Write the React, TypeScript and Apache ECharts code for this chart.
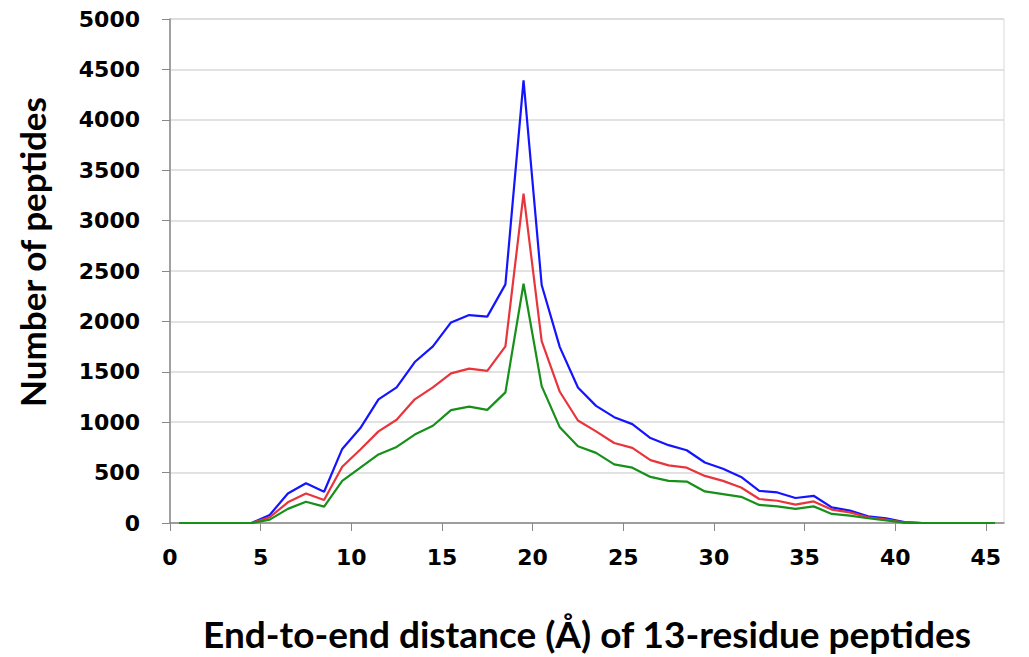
import React, { useEffect, useRef } from "react";
import * as echarts from "echarts";

const distances = [
  0.5, 1.5, 2.5, 3.5, 4.5, 5.5, 6.5, 7.5, 8.5, 9.5,
  10.5, 11.5, 12.5, 13.5, 14.5, 15.5, 16.5, 17.5, 18.5, 19.5,
  20.5, 21.5, 22.5, 23.5, 24.5, 25.5, 26.5, 27.5, 28.5, 29.5,
  30.5, 31.5, 32.5, 33.5, 34.5, 35.5, 36.5, 37.5, 38.5, 39.5,
  40.5, 41.5, 42.5, 43.5, 44.5, 45.5,
];

const blueCounts = [
  0, 0, 0, 0, 0, 80, 293, 395, 310, 735,
  942, 1227, 1345, 1597, 1752, 1990, 2063, 2047, 2367, 4392,
  2361, 1745, 1345, 1162, 1050, 981, 843, 772, 722, 600,
  539, 457, 319, 303, 248, 270, 155, 123, 67, 47,
  8, 0, 0, 0, 0, 0,
];

const redCounts = [
  0, 0, 0, 0, 0, 57, 205, 293, 228, 558,
  729, 909, 1024, 1227, 1345, 1485, 1532, 1509, 1752, 3268,
  1804, 1302, 1017, 909, 794, 745, 624, 572, 549, 467,
  418, 352, 238, 221, 182, 214, 133, 106, 57, 34,
  5, 0, 0, 0, 0, 0,
];

const greenCounts = [
  0, 0, 0, 0, 0, 34, 140, 211, 162, 418,
  549, 680, 755, 877, 965, 1120, 1155, 1122, 1296, 2374,
  1358, 949, 762, 696, 582, 549, 457, 418, 411, 313,
  287, 260, 179, 165, 140, 165, 90, 74, 47, 25,
  3, 0, 0, 0, 0, 0,
];

const xTitle = "End-to-end distance (Å) of 13-residue peptides";
const yTitle = "Number of peptides";

const pairs = (ys: number[]) => distances.map((x, i) => [x, ys[i]]);

export default function App() {
  const ref = useRef<HTMLDivElement>(null);
  useEffect(() => {
    if (!ref.current) return;
    const chart = echarts.init(ref.current, null, { renderer: "svg" });
    const tickFont = {
      color: "#000",
      fontFamily: "DejaVu Sans",
      fontWeight: "bold" as const,
      fontSize: 22,
    };
    const lineSeries = (name: string, data: number[], color: string) => ({
      name,
      type: "line" as const,
      data: pairs(data),
      showSymbol: false,
      symbol: "none",
      lineStyle: { color, width: 2.2 },
      itemStyle: { color },
    });
    chart.setOption({
      animation: false,
      backgroundColor: "#fff",
      grid: {
        left: 170,
        right: 25,
        top: 19,
        bottom: 129,
        show: true,
        borderColor: "#d9d9d9",
        borderWidth: 1,
        backgroundColor: "transparent",
      },
      xAxis: {
        type: "value",
        min: 0,
        max: 46,
        interval: 5,
        name: xTitle,
        nameLocation: "middle",
        nameGap: 92,
        nameTextStyle: {
          color: "#000",
          fontFamily: "Lato",
          fontWeight: "bold",
          fontSize: 37,
        },
        axisLine: { show: true, lineStyle: { color: "#888", width: 1.5 } },
        axisTick: { show: true, length: 8, lineStyle: { color: "#888" } },
        axisLabel: {
          ...tickFont,
          margin: 23,
          showMaxLabel: false,
          formatter: (v: number) => String(v),
        },
        splitLine: { show: false },
      },
      yAxis: {
        type: "value",
        min: 0,
        max: 5000,
        interval: 500,
        axisLine: { show: true, lineStyle: { color: "#888", width: 1.5 } },
        axisTick: { show: true, length: 8, lineStyle: { color: "#888" } },
        axisLabel: { ...tickFont, margin: 30, formatter: (v: number) => String(v) },
        splitLine: { show: true, lineStyle: { color: "#d9d9d9", width: 1.5 } },
      },
      graphic: [
        {
          type: "text",
          x: 32,
          y: 252,
          rotation: Math.PI / 2,
          style: {
            text: yTitle,
            fill: "#000",
            font: "bold 35px Lato",
            align: "center",
            verticalAlign: "middle",
          },
        },
      ],
      series: [
        lineSeries("blue", blueCounts, "#1414ff"),
        lineSeries("red", redCounts, "#e8353c"),
        lineSeries("green", greenCounts, "#17901a"),
      ],
    });
    return () => chart.dispose();
  }, []);
  return (
    <div
      ref={ref}
      style={{ position: "absolute", left: 0, top: 0, width: 1029, height: 657 }}
    />
  );
}
